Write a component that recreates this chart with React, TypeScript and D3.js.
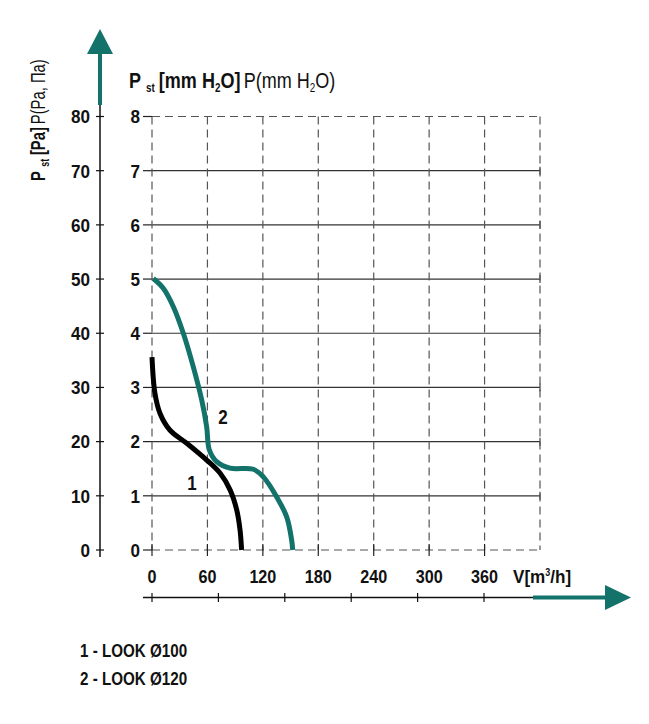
import React from "react";
import * as d3 from "d3";

const W = 649;
const H = 724;

const xTicks = [0, 60, 120, 180, 240, 300, 360];
const yPaTicks = [0, 10, 20, 30, 40, 50, 60, 70, 80];
const yMmTicks = [0, 1, 2, 3, 4, 5, 6, 7, 8];

const curve1V = [0, 3.2, 8.7, 19.5, 37.6, 59.2, 73.6, 84.5, 91.7, 95.3, 97];
const curve1P = [35.6, 28.9, 25.2, 22.1, 19.7, 16.6, 14.2, 11.1, 7.4, 3.7, 0];
const curve2V = [1.4, 12.2, 23.1, 33.9, 44.7, 53.8, 59.2, 62, 70, 84.4, 109.7, 120.5, 135, 145.8, 151.2, 152.3];
const curve2P = [50.1, 48.3, 44.9, 40, 33.8, 27.7, 22.7, 18.5, 16.3, 15.1, 14.9, 13.5, 9.8, 6.1, 1.8, 0];

const legendItems = ["1 - LOOK Ø100", "2 - LOOK Ø120"];
const TEAL = "#13736a";
const FONT = "'Liberation Sans', Arial, sans-serif";

type TProps = {
  x: number;
  y: number;
  sx?: number;
  anchor?: "start" | "middle" | "end";
  size?: number;
  bold?: boolean;
  dy?: string;
  rotate?: number;
  children: React.ReactNode;
};

function T({ x, y, sx = 0.85, anchor = "start", size = 18, bold = true, dy, rotate = 0, children }: TProps) {
  return (
    <g transform={`translate(${x},${y}) rotate(${rotate}) scale(${sx},1)`}>
      <text
        x={0}
        y={0}
        dy={dy}
        textAnchor={anchor}
        fontSize={size}
        fontWeight={bold ? "bold" : "normal"}
        fill="#111"
        fontFamily={FONT}
      >
        {children}
      </text>
    </g>
  );
}

export default function App() {
  const x = d3.scaleLinear().domain([0, 420]).range([152, 540]);
  const y = d3.scaleLinear().domain([0, 80]).range([550, 116.5]);
  const ymm = d3.scaleLinear().domain([0, 8]).range([550, 116.5]);
  const line = d3
    .line<[number, number]>()
    .x((d) => x(d[0]))
    .y((d) => y(d[1]))
    .curve(d3.curveCatmullRom.alpha(0.5));
  const c1 = curve1V.map((v, i) => [v, curve1P[i]] as [number, number]);
  const c2 = curve2V.map((v, i) => [v, curve2P[i]] as [number, number]);
  const dash = "8,5";
  const bottomTicks = d3.range(6).map((i) => 152 + (i * (484 - 152)) / 5);

  return (
    <svg width={W} height={H} style={{ position: "absolute", left: 0, top: 0 }} fontFamily={FONT}>
      {/* horizontal gridlines */}
      {yMmTicks.map((t) => {
        const yy = ymm(t);
        const isEdge = t === 0 || t === 8;
        return (
          <g key={"h" + t}>
            <line x1={143} x2={152} y1={yy} y2={yy} stroke="#222" strokeWidth={1.2} />
            <line
              x1={152}
              x2={540}
              y1={yy}
              y2={yy}
              stroke={isEdge ? "#555" : "#333"}
              strokeWidth={1.2}
              strokeDasharray={isEdge ? dash : undefined}
            />
            {!isEdge && <line x1={540} x2={540} y1={yy - 4} y2={yy + 4} stroke="#444" strokeWidth={1.2} />}
          </g>
        );
      })}
      {/* vertical dashed lines */}
      {[...xTicks, 420].map((t) => (
        <g key={"v" + t}>
          <line x1={x(t)} x2={x(t)} y1={116.5} y2={550} stroke="#555" strokeWidth={1.2} strokeDasharray={dash} />
          {t !== 420 && <line x1={x(t)} x2={x(t)} y1={544} y2={556} stroke="#222" strokeWidth={1.2} />}
        </g>
      ))}
      {/* mm labels */}
      {yMmTicks.map((t) => (
        <T key={"m" + t} x={140} y={ymm(t)} dy="0.36em" anchor="end" size={19} sx={0.9}>
          {t}
        </T>
      ))}
      {/* Pa axis */}
      <line x1={100} x2={100} y1={104} y2={557} stroke="#111" strokeWidth={1.5} />
      <line x1={100} x2={100} y1={50} y2={105} stroke={TEAL} strokeWidth={4} />
      <path d="M100,29 L113,54 L87,54 Z" fill={TEAL} />
      {yPaTicks.map((t) => (
        <g key={"p" + t}>
          <line x1={96} x2={104} y1={y(t)} y2={y(t)} stroke="#111" strokeWidth={1.2} />
          <T x={90} y={y(t)} dy="0.36em" anchor="end" size={19} sx={0.9}>
            {t}
          </T>
        </g>
      ))}
      {/* x labels */}
      {xTicks.map((t) => (
        <T key={"x" + t} x={x(t)} y={583} anchor="middle" size={19} sx={0.85}>
          {t}
        </T>
      ))}
      <T x={513} y={583} size={19} sx={0.9}>
        V[m<tspan dy={-7} fontSize={10}>3</tspan>
        <tspan dy={7}>/h]</tspan>
      </T>
      {/* bottom axis */}
      <line x1={143} x2={534} y1={597.5} y2={597.5} stroke="#111" strokeWidth={1.5} />
      {bottomTicks.map((bx, i) => (
        <line key={"bt" + i} x1={bx} x2={bx} y1={593} y2={602} stroke="#111" strokeWidth={1.2} />
      ))}
      <line x1={533} x2={608} y1={597.5} y2={597.5} stroke={TEAL} strokeWidth={4} />
      <path d="M631,597.5 L605,585 L605,610 Z" fill={TEAL} />
      {/* curves */}
      <path d={line(c1) || ""} fill="none" stroke="#000" strokeWidth={5} />
      <path d={line(c2) || ""} fill="none" stroke={TEAL} strokeWidth={5} />
      <T x={192} y={490} anchor="middle" size={20} sx={0.85}>1</T>
      <T x={223} y={424} anchor="middle" size={20} sx={0.85}>2</T>
      {/* top title */}
      <T x={129} y={88} size={22} sx={0.82}>
        <tspan fontWeight="bold">P</tspan>
        <tspan fontWeight="bold" fontSize={12} dy={4} dx={6}>st</tspan>
        <tspan fontWeight="bold" dy={-4} dx={5}>[mm H</tspan>
        <tspan fontWeight="bold" fontSize={12} dy={4}>2</tspan>
        <tspan fontWeight="bold" dy={-4}>O]</tspan>
        <tspan fontWeight="normal" dx={4}>P(mm H</tspan>
        <tspan fontWeight="normal" fontSize={12} dy={4}>2</tspan>
        <tspan fontWeight="normal" dy={-4}>O)</tspan>
      </T>
      {/* left title rotated */}
      <T x={45} y={181} rotate={-90} size={20} sx={0.74}>
        <tspan fontWeight="bold">P</tspan>
        <tspan fontWeight="bold" fontSize={12} dy={4} dx={6}>st</tspan>
        <tspan fontWeight="bold" dy={-4} dx={5}>[Pa]</tspan>
        <tspan fontWeight="normal" dx={4}>P(Pa, Па)</tspan>
      </T>
      {/* legend */}
      {legendItems.map((s, i) => (
        <T key={s} x={80} y={657 + i * 27.5} size={19} sx={0.8}>
          {s}
        </T>
      ))}
    </svg>
  );
}
